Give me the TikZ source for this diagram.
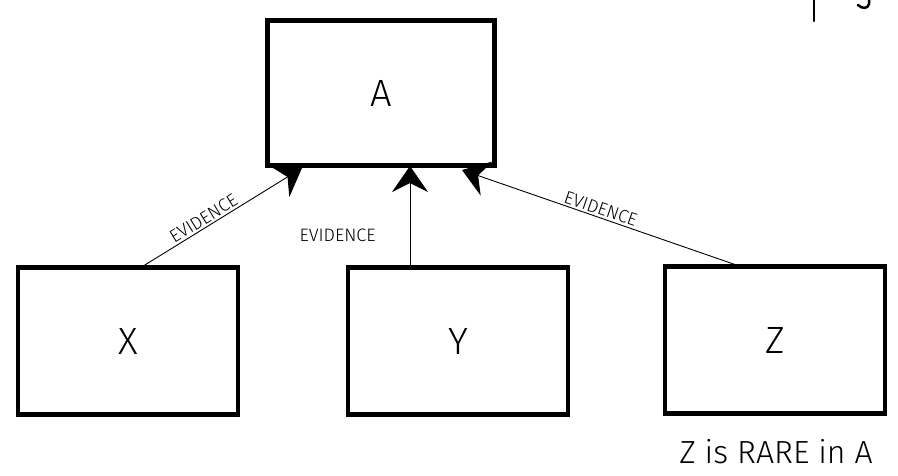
\documentclass[tikz,border=0pt]{standalone}
\usepackage{fontspec}
\setmainfont{Fira Sans Light}
\usetikzlibrary{arrows.meta}
\begin{document}
\begin{tikzpicture}[x=1pt,y=-1pt,
  box/.style={draw=black,line width=4.5pt,minimum width=220pt,minimum height=147pt,inner sep=0pt,font=\fontsize{38}{38}\selectfont},
  conn/.style={draw=black,line width=0.9pt,-{Stealth[length=26pt,width=36pt,inset=9pt,fill=black]}},
  lbl/.style={font=\fontsize{18}{18}\selectfont,inner sep=2pt}]
\useasboundingbox (0,0) rectangle (898,475);
\node[box,minimum width=227pt,minimum height=145pt] (A) at (381,93) {A};
\node[box] (X) at (128,341) {X};
\node[box] (Y) at (458,341) {Y};
\node[box] (Z) at (775,340) {Z};
\coordinate (xa) at (140,268);
\coordinate (ya) at (410,268);
\coordinate (za) at (745,268);
\coordinate (ax) at (302,168);
\coordinate (ay) at (410,166);
\coordinate (az) at (462,170);
\draw[conn] (xa) -- node[lbl,sloped,above,pos=0.42] {EVIDENCE} (ax);
\draw[conn] (ya) -- node[lbl,left=32pt,pos=0.32] {EVIDENCE} (ay);
\draw[conn] (za) -- node[lbl,sloped,above,pos=0.52] {EVIDENCE} (az);
\node[font=\fontsize{32}{32}\selectfont] (cap) at (776,452) {Z is RARE in A};
\draw[line width=2.5pt,line cap=round] (814,0) -- (814,21);
\draw[line width=2.5pt,line cap=round] (869,0) -- (869,4) .. controls (868,9) and (862,9) .. (858,5);
\end{tikzpicture}
\end{document}
